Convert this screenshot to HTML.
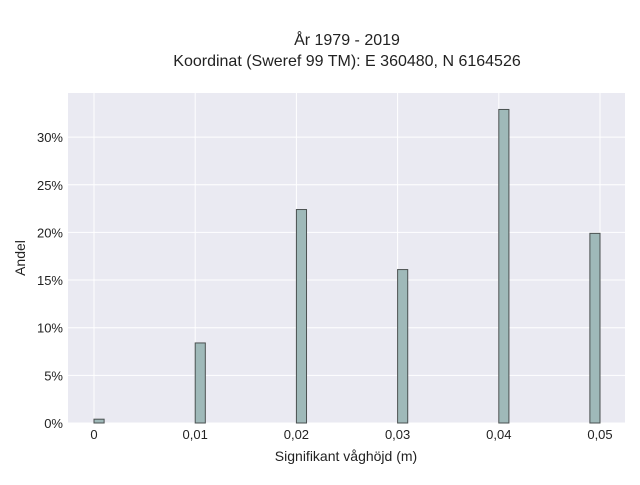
<!DOCTYPE html>
<html><head><meta charset="utf-8"><style>
body{margin:0;background:#fff;font-family:"Liberation Sans",sans-serif;}
svg text{font-family:"Liberation Sans",sans-serif;fill:#222;}
</style></head><body>
<svg width="640" height="480" id="c">
<text x="347" y="45" font-size="16" text-anchor="middle">År 1979 - 2019</text>
<text x="347" y="66" font-size="16" text-anchor="middle">Koordinat (Sweref 99 TM): E 360480, N 6164526</text>
<rect x="68" y="93" width="557" height="330" fill="#eaeaf2"/>
<g id="grid"></g><g id="bars"></g><g id="ticks"></g>
<text x="346" y="461" font-size="14" text-anchor="middle">Signifikant våghöjd (m)</text>
<text transform="translate(25,258) rotate(-90)" font-size="14" text-anchor="middle">Andel</text>
</svg>
<script>
const binStarts=[0,0.01,0.02,0.03,0.04,0.049];
const binEnds=[0.001,0.011,0.021,0.031,0.041,0.050];
const shares=[0.4,8.4,22.4,16.1,32.9,19.9];
const xTicks=[0,0.01,0.02,0.03,0.04,0.05];
const xTickLabels=["0","0,01","0,02","0,03","0,04","0,05"];
const yTicks=[0,5,10,15,20,25,30];
const yTickLabels=["0%","5%","10%","15%","20%","25%","30%"];
const NS="http://www.w3.org/2000/svg";
const x=v=>94+v*10120;
const y=v=>423-v*9.53;
const g=document.getElementById('grid'),b=document.getElementById('bars'),t=document.getElementById('ticks');
function mk(tag,a,p){const e=document.createElementNS(NS,tag);for(const k in a)e.setAttribute(k,a[k]);p.appendChild(e);return e;}
xTicks.forEach((v,i)=>{
 const l=mk('line',{x1:x(v),x2:x(v),y1:93,y2:423,stroke:'#fff','stroke-width':1},g);
 
 
 const tx=mk('text',{x:x(v),y:439,'font-size':13,'text-anchor':'middle'},t);
 tx.textContent=xTickLabels[i];
 
 
});
yTicks.forEach((v,i)=>{
 const l=mk('line',{x1:68,x2:625,y1:y(v),y2:y(v),stroke:'#fff','stroke-width':1},g);
 
 
 const tx=mk('text',{x:63,y:y(v)+5,'font-size':13,'text-anchor':'end'},t);
 tx.textContent=yTickLabels[i];
 
 
});
shares.forEach((v,i)=>{
 const x0=x(binStarts[i]),x1=x(binEnds[i]);
 const r=mk('rect',{x:x0,y:y(v),width:x1-x0,height:y(0)-y(v),fill:'#9fb9b9',stroke:'#4a5050','stroke-width':1},b);
 
 
});
</script>
</body></html>
